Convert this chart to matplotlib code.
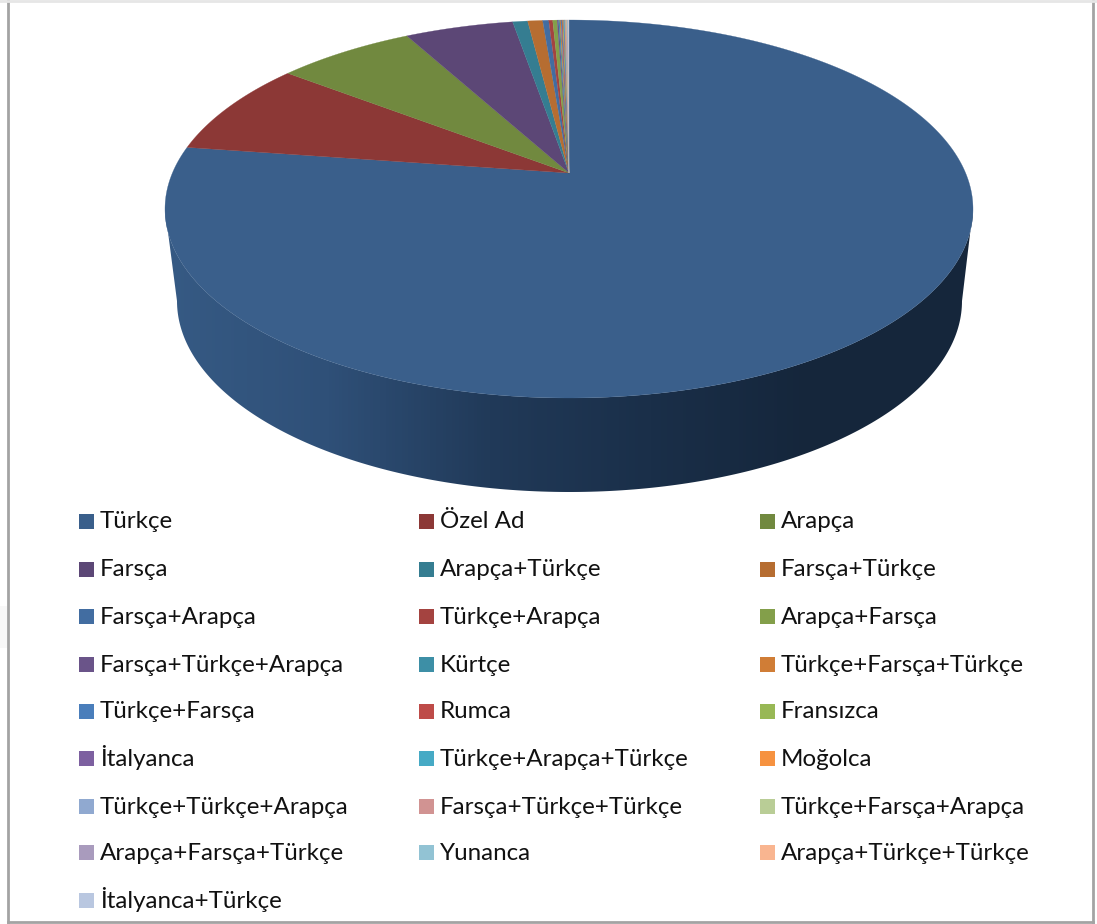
import numpy as np
import matplotlib
matplotlib.use('Agg')
import matplotlib.pyplot as plt
from matplotlib.patches import Polygon, Rectangle
from matplotlib.colors import LinearSegmentedColormap

# legend order = slice order, clockwise from 12 o'clock
labels = ['Türkçe', 'Özel Ad', 'Arapça',
          'Farsça', 'Arapça+Türkçe', 'Farsça+Türkçe',
          'Farsça+Arapça', 'Türkçe+Arapça', 'Arapça+Farsça',
          'Farsça+Türkçe+Arapça', 'Kürtçe', 'Türkçe+Farsça+Türkçe',
          'Türkçe+Farsça', 'Rumca', 'Fransızca',
          'İtalyanca', 'Türkçe+Arapça+Türkçe', 'Moğolca',
          'Türkçe+Türkçe+Arapça', 'Farsça+Türkçe+Türkçe', 'Türkçe+Farsça+Arapça',
          'Arapça+Farsça+Türkçe', 'Yunanca', 'Arapça+Türkçe+Türkçe',
          'İtalyanca+Türkçe']
values = [77.34, 8.16, 6.62,
          5.22, 0.72, 0.72,
          0.29, 0.19, 0.21,
          0.07, 0.06, 0.05,
          0.05, 0.04, 0.04,
          0.035, 0.03, 0.03,
          0.03, 0.025, 0.025,
          0.025, 0.02, 0.02,
          0.02]
colors = ['#3a5f8b', '#8c3836', '#71893f',
          '#5c4776', '#357d91', '#b66d31',
          '#426da1', '#a44340', '#839f4a',
          '#6a5489', '#3d8fa6', '#d07d36',
          '#4a7ebb', '#be4b48', '#98b855',
          '#7d60a0', '#46aac5', '#f69240',
          '#90a9d0', '#d19392', '#b9cd96',
          '#a99bbd', '#92c3d4', '#f9b590',
          '#b9c7e0']
side_colors = ['#365a84', '#2f5078', '#213a59', '#1a2f49', '#15263b', '#15263b']

# pie geometry in pixels, apex sits above ellipse centre because of the 3d perspective
cx, apex_y = 569, 173
up, down = 153, 225
half_w = 404
k = (down - up) / (down + up)
q = up * (1 + k)
r = half_w * np.sqrt(1 - k ** 2)


def project(angle):
    # angle in radians, clockwise from top
    u, v = np.sin(angle), np.cos(angle)
    w = 1 + k * v
    return cx + r * u / w, apex_y - q * v / w


fig = plt.figure(figsize=(10.97, 9.24), dpi=100)
ax = fig.add_axes([0, 0, 1, 1])
ax.set_xlim(0, 1097)
ax.set_ylim(924, 0)
ax.axis('off')

# frame
ax.add_patch(Rectangle((0, 606), 7, 42, fc='#f8f8f8', ec='none'))
ax.plot([8, 8], [0, 922], color='#a3a3a3', lw=2)
ax.plot([1092.5, 1092.5], [0, 922], color='#a3a3a3', lw=2)
ax.plot([8, 1092.5], [921.5, 921.5], color='#a3a3a3', lw=2)
ax.plot([0, 1097], [0.5, 0.5], color='#e6e6e6', lw=2)

# side wall = top face outline joined to smaller lower ellipse
a = np.linspace(np.radians(101), np.radians(259), 200)
top_x, top_y = project(a)
b = np.linspace(np.radians(270), np.radians(90), 200)
wall_x = np.r_[top_x, 569.5 + 392.5 * np.sin(b)]
wall_y = np.r_[top_y, 301 - 191 * np.cos(b)]
wall = Polygon(np.c_[wall_x, wall_y], closed=True, fc='none', ec='none')
ax.add_patch(wall)
cmap = LinearSegmentedColormap.from_list('side', side_colors)
grad = np.linspace(0, 1, 256).reshape(1, -1)
im = ax.imshow(grad, extent=[165, 973, 500, 200], cmap=cmap, aspect='auto', zorder=1)
im.set_clip_path(wall)
ax.set_xlim(0, 1097)
ax.set_ylim(924, 0)

# top face slices
edges = np.r_[0, np.cumsum(values)] / np.sum(values) * 2 * np.pi
for i in range(len(values)):
    n = max(3, int((edges[i + 1] - edges[i]) * 200))
    xs, ys = project(np.linspace(edges[i], edges[i + 1], n))
    ax.add_patch(Polygon(np.c_[np.r_[cx, xs], np.r_[apex_y, ys]], closed=True,
                         fc=colors[i], ec=colors[i], lw=0.2, zorder=2))

# legend, 3 columns
col_x = [79, 419, 760]
row_y = [521, 569, 616, 664, 711, 758, 806, 852, 900]
for i, name in enumerate(labels):
    c, rw = i % 3, i // 3
    ax.add_patch(Rectangle((col_x[c], row_y[rw] - 7), 15, 15, fc=colors[i], ec='none', zorder=3))
    ax.text(col_x[c] + 21, row_y[rw] + 7.5, name, family='Lato', fontsize=17.4, color='#111111',
            va='baseline', ha='left', zorder=3)

fig.savefig('out.png', dpi=100)
